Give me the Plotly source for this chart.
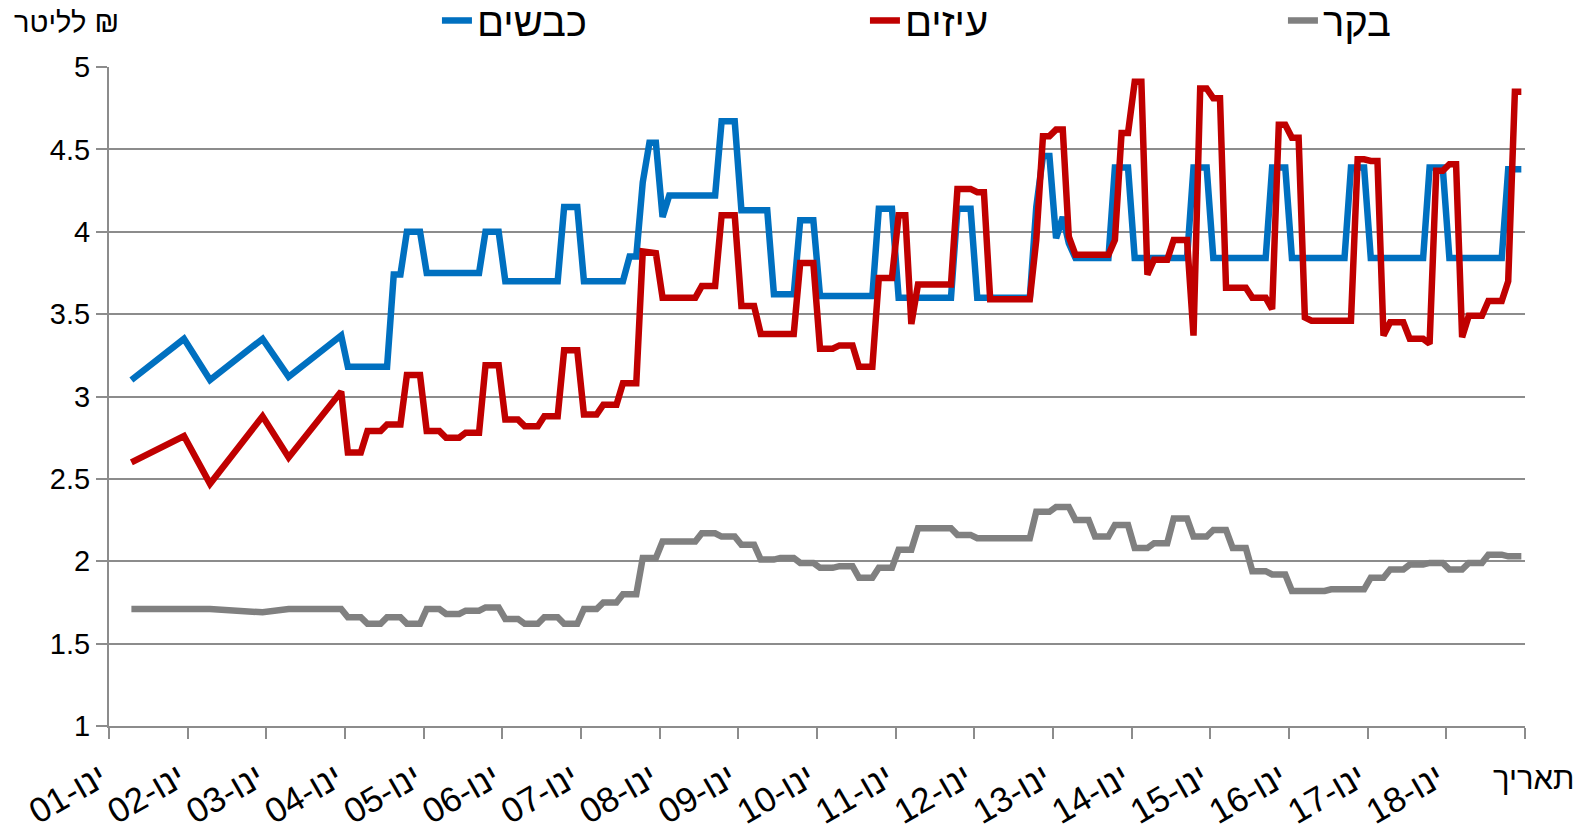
import pandas as pd
import plotly.graph_objects as go

# dates: a few early readings, then monthly from Jan 2004 (mid-month)
early_dates = ['2001-04-15', '2001-12-15', '2002-04-15', '2002-12-15', '2003-04-15', '2003-12-15']
monthly_dates = [d.strftime('%Y-%m-15') for d in pd.date_range('2004-01-01', '2018-12-01', freq='MS')]
dates = early_dates + monthly_dates

# sheep milk price (NIS per liter)
sheep = [
    3.10, 3.35, 3.10, 3.35, 3.12, 3.37,
    3.18, 3.18, 3.18, 3.18, 3.18, 3.18, 3.18, 3.74, 3.74, 4.00, 4.00, 4.00,  # 2004
    3.75, 3.75, 3.75, 3.75, 3.75, 3.75, 3.75, 3.75, 3.75, 4.00, 4.00, 4.00,  # 2005
    3.70, 3.70, 3.70, 3.70, 3.70, 3.70, 3.70, 3.70, 3.70, 4.15, 4.15, 4.15,  # 2006
    3.70, 3.70, 3.70, 3.70, 3.70, 3.70, 3.70, 3.85, 3.85, 4.30, 4.54, 4.54,  # 2007
    4.09, 4.22, 4.22, 4.22, 4.22, 4.22, 4.22, 4.22, 4.22, 4.67, 4.67, 4.67,  # 2008
    4.13, 4.13, 4.13, 4.13, 4.13, 3.62, 3.62, 3.62, 3.62, 4.07, 4.07, 4.07,  # 2009
    3.61, 3.61, 3.61, 3.61, 3.61, 3.61, 3.61, 3.61, 3.61, 4.14, 4.14, 4.14,  # 2010
    3.60, 3.60, 3.60, 3.60, 3.60, 3.60, 3.60, 3.60, 3.60, 4.14, 4.14, 4.14,  # 2011
    3.60, 3.60, 3.60, 3.60, 3.60, 3.60, 3.60, 3.60, 3.60, 4.15, 4.46, 4.46,  # 2012
    3.96, 4.09, 3.93, 3.84, 3.84, 3.84, 3.84, 3.84, 3.84, 4.39, 4.39, 4.39,  # 2013
    3.84, 3.84, 3.84, 3.84, 3.84, 3.84, 3.84, 3.84, 3.84, 4.39, 4.39, 4.39,  # 2014
    3.84, 3.84, 3.84, 3.84, 3.84, 3.84, 3.84, 3.84, 3.84, 4.39, 4.39, 4.39,  # 2015
    3.84, 3.84, 3.84, 3.84, 3.84, 3.84, 3.84, 3.84, 3.84, 4.39, 4.39, 4.39,  # 2016
    3.84, 3.84, 3.84, 3.84, 3.84, 3.84, 3.84, 3.84, 3.84, 4.39, 4.39, 4.39,  # 2017
    3.84, 3.84, 3.84, 3.84, 3.84, 3.84, 3.84, 3.84, 3.84, 4.38, 4.38, 4.38,  # 2018
]

# goat milk price
goats = [
    2.60, 2.76, 2.47, 2.88, 2.63, 3.03,
    2.66, 2.66, 2.66, 2.79, 2.79, 2.79, 2.83, 2.83, 2.83, 3.13, 3.13, 3.13,  # 2004
    2.79, 2.79, 2.79, 2.75, 2.75, 2.75, 2.78, 2.78, 2.78, 3.19, 3.19, 3.19,  # 2005
    2.86, 2.86, 2.86, 2.82, 2.82, 2.82, 2.88, 2.88, 2.88, 3.28, 3.28, 3.28,  # 2006
    2.89, 2.89, 2.89, 2.95, 2.95, 2.95, 3.08, 3.08, 3.08, 3.88, 3.87, 3.87,  # 2007
    3.60, 3.60, 3.60, 3.60, 3.60, 3.60, 3.67, 3.67, 3.67, 4.10, 4.10, 4.10,  # 2008
    3.55, 3.55, 3.55, 3.38, 3.38, 3.38, 3.38, 3.38, 3.38, 3.81, 3.81, 3.81,  # 2009
    3.29, 3.29, 3.29, 3.31, 3.31, 3.31, 3.18, 3.18, 3.18, 3.72, 3.72, 3.72,  # 2010
    4.10, 4.10, 3.44, 3.68, 3.68, 3.68, 3.68, 3.68, 3.68, 4.26, 4.26, 4.26,  # 2011
    4.24, 4.24, 3.59, 3.59, 3.59, 3.59, 3.59, 3.59, 3.59, 3.95, 4.58, 4.58,  # 2012
    4.62, 4.62, 3.97, 3.86, 3.86, 3.86, 3.86, 3.86, 3.86, 3.95, 4.60, 4.60,  # 2013
    4.91, 4.91, 3.74, 3.83, 3.83, 3.83, 3.95, 3.95, 3.95, 3.37, 4.87, 4.87,  # 2014
    4.81, 4.81, 3.66, 3.66, 3.66, 3.66, 3.60, 3.60, 3.60, 3.53, 4.65, 4.65,  # 2015
    4.57, 4.57, 3.48, 3.46, 3.46, 3.46, 3.46, 3.46, 3.46, 3.46, 4.44, 4.44,  # 2016
    4.43, 4.43, 3.37, 3.45, 3.45, 3.45, 3.35, 3.35, 3.35, 3.32, 4.37, 4.37,  # 2017
    4.41, 4.41, 3.36, 3.49, 3.49, 3.49, 3.58, 3.58, 3.58, 3.70, 4.85, 4.85,  # 2018
]

# cattle milk price
cattle = [
    1.71, 1.71, 1.71, 1.69, 1.71, 1.71,
    1.66, 1.66, 1.66, 1.62, 1.62, 1.62, 1.66, 1.66, 1.66, 1.62, 1.62, 1.62,  # 2004
    1.71, 1.71, 1.71, 1.68, 1.68, 1.68, 1.70, 1.70, 1.70, 1.72, 1.72, 1.72,  # 2005
    1.65, 1.65, 1.65, 1.62, 1.62, 1.62, 1.66, 1.66, 1.66, 1.62, 1.62, 1.62,  # 2006
    1.71, 1.71, 1.71, 1.75, 1.75, 1.75, 1.80, 1.80, 1.80, 2.02, 2.02, 2.02,  # 2007
    2.12, 2.12, 2.12, 2.12, 2.12, 2.12, 2.17, 2.17, 2.17, 2.15, 2.15, 2.15,  # 2008
    2.10, 2.10, 2.10, 2.01, 2.01, 2.01, 2.02, 2.02, 2.02, 1.99, 1.99, 1.99,  # 2009
    1.96, 1.96, 1.96, 1.97, 1.97, 1.97, 1.90, 1.90, 1.90, 1.96, 1.96, 1.96,  # 2010
    2.07, 2.07, 2.07, 2.20, 2.20, 2.20, 2.20, 2.20, 2.20, 2.16, 2.16, 2.16,  # 2011
    2.14, 2.14, 2.14, 2.14, 2.14, 2.14, 2.14, 2.14, 2.14, 2.30, 2.30, 2.30,  # 2012
    2.33, 2.33, 2.33, 2.25, 2.25, 2.25, 2.15, 2.15, 2.15, 2.22, 2.22, 2.22,  # 2013
    2.08, 2.08, 2.08, 2.11, 2.11, 2.11, 2.26, 2.26, 2.26, 2.15, 2.15, 2.15,  # 2014
    2.19, 2.19, 2.19, 2.08, 2.08, 2.08, 1.94, 1.94, 1.94, 1.92, 1.92, 1.92,  # 2015
    1.82, 1.82, 1.82, 1.82, 1.82, 1.82, 1.83, 1.83, 1.83, 1.83, 1.83, 1.83,  # 2016
    1.90, 1.90, 1.90, 1.95, 1.95, 1.95, 1.98, 1.98, 1.98, 1.99, 1.99, 1.99,  # 2017
    1.95, 1.95, 1.95, 1.99, 1.99, 1.99, 2.04, 2.04, 2.04, 2.03, 2.03, 2.03,  # 2018
]

tick_dates = [f'{y}-01-01' for y in range(2001, 2020)]
tick_labels = ['01-ינו', '02-ינו', '03-ינו', '04-ינו', '05-ינו', '06-ינו', '07-ינו', '08-ינו', '09-ינו',
               '10-ינו', '11-ינו', '12-ינו', '13-ינו', '14-ינו', '15-ינו', '16-ינו', '17-ינו', '18-ינו', '']

series_names = ['כבשים', 'עיזים', 'בקר']
colors = ['#0070C0', '#C00000', '#808080']
legend_widths = [383, 373, 120]

font_family = 'Liberation Sans, Arial, sans-serif'
grid = '#8c8c8c'

fig = go.Figure()
for name, vals, color, lw in zip(series_names, [sheep, goats, cattle], colors, legend_widths):
    fig.add_trace(go.Scatter(
        x=dates, y=vals, name=name, mode='lines',
        line=dict(color=color, width=6.5),
        legendwidth=lw,
    ))

# page body has an 8px margin: the figure is offset by it, and runs to the
# bottom edge of the window so the rotated date labels are not clipped
fig.update_layout(
    width=1566, height=817,
    margin=dict(l=101, r=49, t=59, b=99, autoexpand=False),
    plot_bgcolor='white',
    paper_bgcolor='white',
    font=dict(family=font_family, color='black'),
    legend=dict(
        orientation='h', x=0.2316, y=1.0706, xanchor='left', yanchor='middle',
        font=dict(size=40, family=font_family),
        bgcolor='rgba(0,0,0,0)',
    ),
    annotations=[
        dict(text='לליטר ₪', xref='paper', yref='paper', x=0.0085, y=1.0676,
             xanchor='right', yanchor='middle', showarrow=False,
             font=dict(size=29, family=font_family)),
        dict(text='תאריך', xref='paper', yref='paper', x=1.006, y=-0.0797,
             xanchor='center', yanchor='middle', showarrow=False,
             font=dict(size=31, family=font_family)),
    ],
)

# a trailing no-break space keeps the rotated labels a little left of their ticks
fig.update_xaxes(
    type='date', range=['2001-01-01', '2019-01-01'],
    tickmode='array', tickvals=tick_dates, ticktext=[t + '\u00a0' if t else t for t in tick_labels],
    tickangle=-30, tickfont=dict(size=35, family=font_family),
    ticks='outside', ticklen=11, tickwidth=1.5, tickcolor=grid,
    showline=True, linecolor=grid, linewidth=2,
    showgrid=False, zeroline=False,
)
fig.update_yaxes(
    range=[1, 5], dtick=0.5, tick0=1,
    tickfont=dict(size=29),
    ticks='outside', ticklen=11, tickwidth=1.5, tickcolor=grid,
    showline=True, linecolor=grid, linewidth=2,
    showgrid=True, gridcolor=grid, gridwidth=1.5, zeroline=False,
)

fig.write_html('out.html')
